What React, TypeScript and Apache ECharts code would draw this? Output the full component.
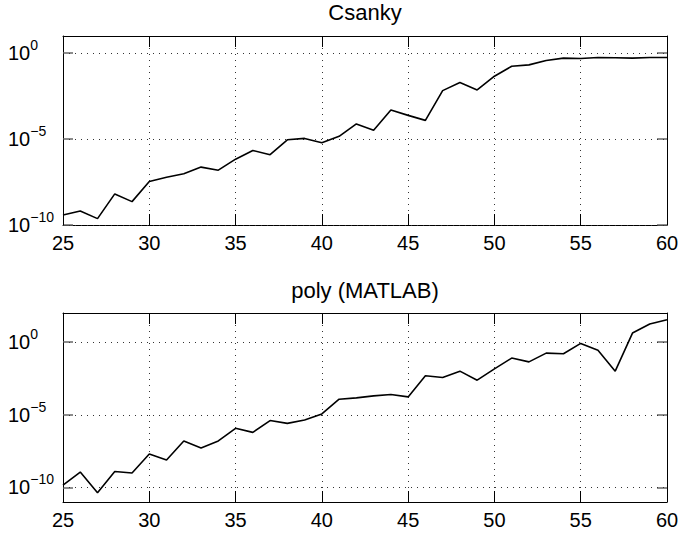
import React, { useEffect, useRef } from "react";
import * as echarts from "echarts";

const nValues = [25, 26, 27, 28, 29, 30, 31, 32, 33, 34, 35, 36, 37, 38, 39, 40, 41, 42, 43, 44, 45, 46, 47, 48, 49, 50, 51, 52, 53, 54, 55, 56, 57, 58, 59, 60];
// log10 of the error
const log10Csanky = [-9.42, -9.18, -9.63, -8.19, -8.64, -7.47, -7.22, -7.02, -6.63, -6.81, -6.17, -5.66, -5.91, -5.04, -4.96, -5.21, -4.84, -4.12, -4.49, -3.31, -3.62, -3.91, -2.18, -1.71, -2.14, -1.34, -0.76, -0.68, -0.43, -0.29, -0.31, -0.25, -0.27, -0.29, -0.25, -0.25];
const log10Poly = [-9.84, -8.94, -10.37, -8.9, -9.01, -7.7, -8.11, -6.8, -7.29, -6.8, -5.93, -6.21, -5.4, -5.59, -5.36, -4.94, -3.93, -3.84, -3.7, -3.61, -3.77, -2.32, -2.44, -2.0, -2.62, -1.84, -1.1, -1.36, -0.76, -0.8, -0.09, -0.57, -2.0, 0.62, 1.24, 1.54];
const titles = ["Csanky", "poly (MATLAB)"];
const yTickExponents = [-10, -5, 0];
const yRanges = [[-10, 1], [-11, 2]];
const xRange = [25, 60];
const xInterval = 5;

const FONT = "'Liberation Sans', Arial, Helvetica, sans-serif";

export default function App() {
  const ref = useRef<HTMLDivElement>(null);
  useEffect(() => {
    if (!ref.current) return;
    const chart = echarts.init(ref.current, null, { renderer: "svg" });
    const gridTops = [36, 313];
    const titleYs = [12.5, 290.5];
    const gridH = 189;
    const series = [log10Csanky, log10Poly];

    const grids = gridTops.map((t) => ({
      left: 63,
      right: 14,
      top: t,
      height: gridH,
      containLabel: false,
      outerBoundsMode: "none",
      show: false,
    }));

    const xAxes: any[] = [];
    const yAxes: any[] = [];
    [0, 1].forEach((g) => {
      [false, true].forEach((isTop) => {
        xAxes.push({
          type: "value",
          gridIndex: g,
          position: isTop ? "top" : "bottom",
          min: xRange[0],
          max: xRange[1],
          interval: xInterval,
          axisLine: { show: true, onZero: false, lineStyle: { color: "#000", width: 1 } },
          axisTick: { show: true, inside: true, length: 11, lineStyle: { color: "#000", width: 1 } },
          axisLabel: {
            show: !isTop,
            color: "#000",
            fontSize: 20,
            fontFamily: FONT,
            margin: 8,
          },
          splitLine: {
            show: !isTop,
            lineStyle: { color: "#333", width: 1, type: [1, 5] },
          },
        });
      });
      [false, true].forEach((isRight) => {
        yAxes.push({
          type: "value",
          gridIndex: g,
          position: isRight ? "right" : "left",
          min: yRanges[g][0],
          max: yRanges[g][1],
          axisLine: { show: true, onZero: false, lineStyle: { color: "#000", width: 1 } },
          axisTick: {
            show: true,
            inside: true,
            length: 10,
            customValues: yTickExponents,
            lineStyle: { color: "#666", width: 1.5 },
          },
          axisLabel: {
            show: !isRight,
            customValues: yTickExponents,
            align: "left",
            margin: 55,
            color: "#000",
            fontFamily: FONT,
            formatter: (v: number) => `{b|10}{s|${v < 0 ? "\u2212" + Math.abs(v) : v}}`,
            rich: {
              b: { fontSize: 20, fontFamily: FONT, color: "#000" },
              s: { fontSize: 14, fontFamily: FONT, color: "#000", padding: [0, 0, 16, 0] },
            },
          },
          splitLine: { show: false },
        });
      });
    });

    const seriesOpts = series.map((vals, g) => ({
      type: "line",
      xAxisIndex: g * 2,
      yAxisIndex: g * 2,
      data: nValues.map((n, i) => [n, vals[i]]),
      showSymbol: false,
      symbol: "none",
      lineStyle: { color: "#000", width: 1.6 },
      z: 5,
      markLine: {
        silent: true,
        symbol: ["none", "none"],
        label: { show: false },
        lineStyle: { color: "#333", width: 1, type: [1, 5] },
        data: yTickExponents.map((e) => ({ yAxis: e })),
        z: 1,
      },
    }));

    chart.setOption({
      animation: false,
      backgroundColor: "#fff",
      grid: grids,
      xAxis: xAxes,
      yAxis: yAxes,
      series: seriesOpts,
      graphic: titles.map((t, g) => ({
        type: "text",
        x: 365,
        y: titleYs[g],
        style: {
          text: t,
          fontSize: 22,
          fontFamily: FONT,
          fill: "#000",
          textAlign: "center",
          textVerticalAlign: "middle",
        },
      })),
    });
    return () => chart.dispose();
  }, []);
  return (
    <div
      ref={ref}
      style={{ position: "absolute", left: 0, top: 0, width: 681, height: 534 }}
    />
  );
}
